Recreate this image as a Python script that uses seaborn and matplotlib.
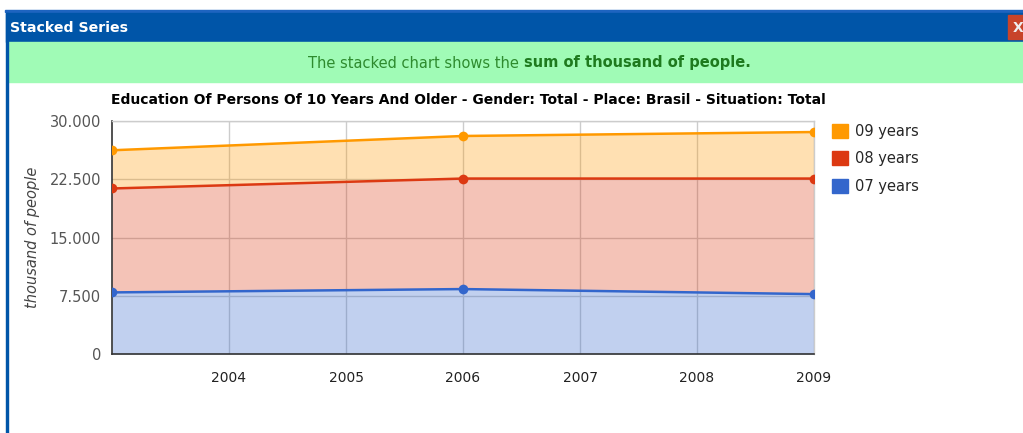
import matplotlib
matplotlib.use("Agg")
import matplotlib.pyplot as plt
import matplotlib.patches as mpatches
from matplotlib.ticker import FuncFormatter, MultipleLocator
import seaborn as sns
import pandas as pd
import numpy as np

years = [2003, 2006, 2009]
series_names = ["07 years", "08 years", "09 years"]
v07 = [7930, 8360, 7710]
v08 = [13380, 14230, 14880]
v09 = [4920, 5480, 5990]
colors = {"07 years": "#3366CC", "08 years": "#DC3912", "09 years": "#FF9900"}
xticks = [2004, 2005, 2006, 2007, 2008, 2009]

sns.set_theme(style="white")
plt.rcParams['font.family'] = ['DejaVu Sans']

W, H = 1023, 433
fig = plt.figure(figsize=(W / 100, H / 100), dpi=100)

def fx(px):
    return px / W

def fy(py):
    return 1 - py / H

# window chrome
fig.patches.append(mpatches.Rectangle((fx(5), fy(11.5)), fx(1018), 1.2 / H, transform=fig.transFigure,
                                      color="#1E64C0", zorder=0))
fig.patches.append(mpatches.Rectangle((fx(6), fy(42)), fx(1017), 29 / H, transform=fig.transFigure,
                                      color="#0055A8", zorder=0))
fig.patches.append(mpatches.Rectangle((fx(7), fy(82)), fx(1016), 40 / H, transform=fig.transFigure,
                                      color="#A0FBB6", zorder=0))
fig.patches.append(mpatches.Rectangle((fx(5.5), 0), 2.2 / W, fy(13), transform=fig.transFigure,
                                      color="#0055A8", zorder=0))
fig.patches.append(mpatches.Rectangle((fx(1008), fy(39)), fx(15), 24 / H, transform=fig.transFigure,
                                      color="#C8442A", zorder=1))
fig.text(fx(1013), fy(28), "X", color="#EEEEEE", fontsize=10, fontweight="bold", va="center", ha="left")
fig.text(fx(10), fy(27.5), "Stacked Series", color="white", fontsize=10.2, fontweight="bold",
         va="center", ha="left")

t1 = fig.text(fx(308), fy(63), "The stacked chart shows the ", color="#2E8B2E", fontsize=10.5,
              va="center", ha="left")
fig.canvas.draw()
bb = t1.get_window_extent()
fig.text(bb.x1 / W, fy(63), "sum of thousand of people.", color="#1E7A1E", fontsize=10.5,
         fontweight="bold", va="center", ha="left")

fig.text(fx(468), fy(100), "Education Of Persons Of 10 Years And Older - Gender: Total - Place: Brasil - Situation: Total",
         color="black", fontsize=10, fontweight="bold", va="center", ha="center")

ax = fig.add_axes([fx(112), fy(354), fx(814) - fx(112), (354 - 121) / H])

df = pd.DataFrame({"year": years, "07 years": v07, "08 years": v08, "09 years": v09})
cum = df[series_names].cumsum(axis=1)
long = cum.assign(year=df["year"]).melt(id_vars="year", var_name="series", value_name="total")

prev = np.zeros(len(years))
for name in series_names:
    top = cum[name].values
    ax.fill_between(df["year"], prev, top, color=colors[name], alpha=0.3, linewidth=0, zorder=1)
    prev = top

sns.lineplot(data=long, x="year", y="total", hue="series", palette=colors, marker="o",
             markersize=7, markeredgewidth=0, linewidth=1.8, ax=ax, legend=False, zorder=3)

ax.set_xlim(2003, 2009)
ax.set_ylim(0, 30000)
ax.yaxis.set_major_locator(MultipleLocator(7500))
ax.set_xticks(xticks)
ax.set_xticklabels([str(x) for x in xticks])
ax.yaxis.set_major_formatter(FuncFormatter(lambda v, p: f"{int(v):,}".replace(",", ".")))
ax.grid(True, color="#CCCCCC", linewidth=1, zorder=0)
ax.set_axisbelow(True)
ax.tick_params(axis="x", colors="#222222", labelsize=10, length=0, pad=12)
ax.tick_params(axis="y", colors="#555555", labelsize=10.5, length=0, pad=8)
for lab in ax.get_xticklabels():
    lab.set_color("#222222")
ax.set_xlabel("")
ax.set_ylabel("thousand of people", fontsize=10.5, style="italic", color="#444444", labelpad=7)
for side in ["top", "right"]:
    ax.spines[side].set_color("#CCCCCC")
    ax.spines[side].set_linewidth(1)
for side in ["left", "bottom"]:
    ax.spines[side].set_color("#333333")
    ax.spines[side].set_linewidth(1.2)

# legend
handles = [mpatches.Patch(color=colors[n], label=n) for n in reversed(series_names)]
fig.legend(handles=handles, loc="upper left", bbox_to_anchor=(fx(826), fy(118)), frameon=False,
           fontsize=10.5, handlelength=1.1, handleheight=1.1, handletextpad=0.5, labelspacing=0.85,
           borderaxespad=0)

fig.savefig("out.png", dpi=100)
